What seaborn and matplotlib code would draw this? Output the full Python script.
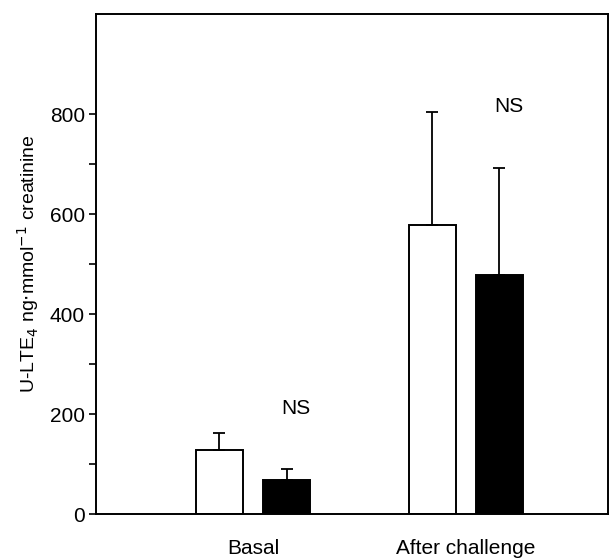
import matplotlib
matplotlib.use("Agg")
import matplotlib.pyplot as plt
import seaborn as sns
import pandas as pd
import numpy as np

# ========== Data ==========
groups = ["Basal", "After challenge"]
series = ["Group A", "Group B"]
means_a = [128, 578]
means_b = [68, 478]
sem_a = [34, 226]
sem_b = [23, 214]
y_ticks = [0, 200, 400, 600, 800]
y_minor = [100, 300, 500, 700]
ns_labels = ["NS", "NS"]
ns_heights = [212, 815]

df = pd.DataFrame({
    "group": groups * 2,
    "series": [series[0]] * 2 + [series[1]] * 2,
    "value": means_a + means_b,
    "err": sem_a + sem_b,
})

# ========== Plot ==========
sns.set_style("ticks")
plt.rcParams["font.family"] = ["Liberation Sans Narrow", "Liberation Sans", "DejaVu Sans"]
plt.rcParams["text.color"] = "black"
plt.rcParams["axes.labelcolor"] = "black"
plt.rcParams["xtick.color"] = "black"
plt.rcParams["ytick.color"] = "black"

fig = plt.figure(figsize=(6.11, 5.58), dpi=100)
ax = fig.add_axes([96 / 611, 44 / 558, 512 / 611, 500 / 558])

sns.barplot(data=df, x="group", y="value", hue="series", order=groups,
            hue_order=series, palette=["white", "black"], width=0.63, gap=0.29,
            edgecolor="black", linewidth=1.4, errorbar=None, legend=False, ax=ax)

# upward-only error bars at the bar centres
for bars, s in zip(ax.containers, series):
    sub = df[df["series"] == s].set_index("group").loc[groups]
    xs = [b.get_x() + b.get_width() / 2 for b in bars]
    ax.errorbar(xs, sub["value"], yerr=[np.zeros(len(xs)), sub["err"]],
                fmt="none", ecolor="black", elinewidth=1.3, capsize=4,
                capthick=1.3, zorder=1)

# NS annotations above each pair
for i, (lab, h) in enumerate(zip(ns_labels, ns_heights)):
    ax.text(i + 0.2, h, lab, ha="center", va="center", fontsize=15)

ax.set_xlim(-0.737, 1.667)
ax.set_ylim(0, 1000)
ax.set_yticks(y_ticks)
ax.set_yticks(y_minor, minor=True)
ax.tick_params(axis="y", which="both", direction="out", length=5, width=1.2,
               labelsize=15, pad=3)
ax.tick_params(axis="x", length=0, labelsize=15, pad=18)
ax.set_xlabel("")
ax.set_ylabel("U-LTE$_4$ ng$\\cdot$mmol$^{\\mathrm{-1}}$ creatinine", fontsize=14, labelpad=6)

for sp in ax.spines.values():
    sp.set_visible(True)
    sp.set_linewidth(1.4)
    sp.set_color("black")

fig.savefig("out.png", dpi=100)
